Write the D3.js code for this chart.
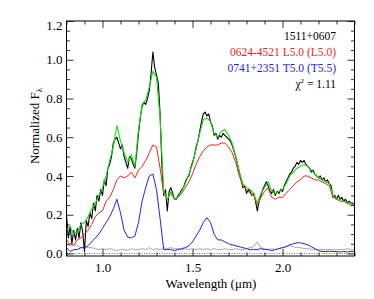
<!DOCTYPE html>
<html>
<head>
<meta charset="utf-8">
<script src="https://cdn.jsdelivr.net/npm/d3@7"></script>
<style>
  body { margin: 0; background: #fff; }
  svg text { font-family: "Liberation Serif", "Times New Roman", serif; }
</style>
</head>
<body>
<div id="chart"></div>
<script>
// wavelength grids (um)
var wave = d3.range(0, 81).map(function(i) { return +(0.80 + i * 0.02).toFixed(2); });
var waveFine = d3.range(0, 161).map(function(i) { return +(0.80 + i * 0.01).toFixed(2); });

// 1511+0607 observed spectrum (0.01 um step)
var observed = [
  0.20, 0.08, 0.14, 0.05, 0.12, 0.07, 0.13, 0.08, 0.16, 0.11,
  0.01, 0.17, 0.14, 0.21, 0.18, 0.26, 0.22, 0.30, 0.27, 0.33,
  0.30, 0.38, 0.35, 0.44, 0.46, 0.50, 0.57, 0.59, 0.60, 0.57,
  0.54, 0.56, 0.50, 0.47, 0.44, 0.50, 0.49, 0.46, 0.44, 0.52,
  0.62, 0.70, 0.76, 0.78, 0.77, 0.80, 0.84, 0.93, 1.04, 0.96,
  0.92, 0.88, 0.72, 0.45, 0.30, 0.33, 0.22, 0.32, 0.34, 0.31,
  0.28, 0.28, 0.30, 0.31, 0.33, 0.34, 0.37, 0.39, 0.40, 0.44,
  0.47, 0.50, 0.55, 0.58, 0.63, 0.68, 0.72, 0.73, 0.71, 0.72,
  0.68, 0.66, 0.61, 0.62, 0.59, 0.61, 0.60, 0.62, 0.61, 0.60,
  0.59, 0.58, 0.56, 0.53, 0.50, 0.46, 0.42, 0.38, 0.34, 0.35,
  0.31, 0.33, 0.32, 0.30, 0.31, 0.27, 0.22, 0.27, 0.30, 0.33,
  0.35, 0.37, 0.35, 0.32, 0.31, 0.33, 0.30, 0.32, 0.31, 0.33,
  0.32, 0.35, 0.37, 0.39, 0.41, 0.42, 0.44, 0.45, 0.47, 0.46,
  0.48, 0.47, 0.48, 0.46, 0.45, 0.44, 0.42, 0.43, 0.41, 0.40,
  0.39, 0.40, 0.38, 0.39, 0.37, 0.38, 0.36, 0.35, 0.29, 0.30,
  0.28, 0.30, 0.28, 0.29, 0.27, 0.28, 0.26, 0.27, 0.26, 0.26,
  0.25
];

// noise of observed spectrum
var noise = [
  0.05, 0.04, 0.05, 0.04, 0.03, 0.03, 0.03, 0.03, 0.025, 0.02,
  0.025, 0.02, 0.025, 0.02, 0.015, 0.02, 0.02, 0.015, 0.025, 0.02,
  0.02, 0.025, 0.02, 0.03, 0.02, 0.025, 0.02, 0.03, 0.025, 0.03,
  0.025, 0.025, 0.02, 0.025, 0.02, 0.025, 0.02, 0.025, 0.02, 0.025,
  0.02, 0.025, 0.02, 0.02, 0.025, 0.02, 0.02, 0.025, 0.02, 0.02,
  0.025, 0.03, 0.035, 0.06, 0.03, 0.025, 0.02, 0.025, 0.02, 0.025,
  0.03, 0.035, 0.04, 0.035, 0.03, 0.03, 0.025, 0.025, 0.02, 0.02,
  0.02, 0.02, 0.02, 0.02, 0.02, 0.02, 0.02, 0.02, 0.025, 0.02,
  0.02
];

// composite template (L5.0 + T5.0)
var composite = [
  0.12, 0.14, 0.10, 0.11, 0.15, 0.16, 0.19, 0.23, 0.26, 0.30,
  0.34, 0.40, 0.48, 0.55, 0.66, 0.58, 0.52, 0.47, 0.51, 0.45,
  0.64, 0.77, 0.79, 0.86, 0.94, 0.91, 0.70, 0.32, 0.28, 0.32,
  0.28, 0.29, 0.32, 0.36, 0.41, 0.46, 0.54, 0.62, 0.69, 0.70,
  0.68, 0.62, 0.60, 0.63, 0.64, 0.61, 0.57, 0.50, 0.42, 0.36,
  0.34, 0.33, 0.31, 0.26, 0.31, 0.34, 0.37, 0.32, 0.31, 0.32,
  0.33, 0.36, 0.40, 0.42, 0.44, 0.45, 0.46, 0.45, 0.43, 0.41,
  0.39, 0.38, 0.37, 0.36, 0.30, 0.28, 0.28, 0.27, 0.26, 0.26,
  0.25
];

// primary 0624-4521 L5.0
var primary = [
  0.07, 0.05, 0.04, 0.07, 0.08, 0.10, 0.12, 0.15, 0.19, 0.21,
  0.22, 0.27, 0.29, 0.33, 0.38, 0.40, 0.39, 0.40, 0.42, 0.39,
  0.43, 0.45, 0.48, 0.52, 0.56, 0.55, 0.44, 0.31, 0.28, 0.31,
  0.28, 0.29, 0.31, 0.34, 0.37, 0.41, 0.46, 0.50, 0.53, 0.55,
  0.56, 0.56, 0.56, 0.57, 0.57, 0.55, 0.52, 0.47, 0.40, 0.35,
  0.33, 0.31, 0.30, 0.25, 0.29, 0.32, 0.34, 0.29, 0.28, 0.29,
  0.29, 0.31, 0.33, 0.35, 0.37, 0.38, 0.40, 0.40, 0.39, 0.38,
  0.38, 0.37, 0.36, 0.35, 0.29, 0.28, 0.27, 0.27, 0.26, 0.25,
  0.25
];

// secondary 0741+2351 T5.0
var secondary = [
  0.03, 0.01, 0.02, 0.02, 0.03, 0.03, 0.04, 0.06, 0.08, 0.10,
  0.13, 0.16, 0.19, 0.23, 0.28, 0.21, 0.12, 0.085, 0.08, 0.09,
  0.16, 0.27, 0.34, 0.40, 0.41, 0.33, 0.18, 0.02, 0.02, 0.02,
  0.015, 0.02, 0.025, 0.03, 0.04, 0.06, 0.09, 0.12, 0.16, 0.185,
  0.16, 0.10, 0.07, 0.07, 0.06, 0.05, 0.045, 0.04, 0.035, 0.03,
  0.025, 0.02, 0.02, 0.02, 0.025, 0.02, 0.02, 0.015, 0.02, 0.025,
  0.03, 0.035, 0.045, 0.05, 0.055, 0.055, 0.05, 0.045, 0.035, 0.025,
  0.015, 0.01, 0.01, 0.012, 0.01, 0.01, 0.008, 0.01, 0.008, 0.01,
  0.01
];

var legendLines = [
  {text: "1511+0607", color: "#000000"},
  {text: "0624-4521 L5.0 (L5.0)", color: "#ff2020"},
  {text: "0741+2351 T5.0 (T5.5)", color: "#2020ff"}
];
var chi2 = "1.11";
var xTicks = [1.0, 1.5, 2.0];
var yTicks = [0.0, 0.2, 0.4, 0.6, 0.8, 1.0, 1.2];

(function() {
  var W = 374, H = 299;
  var pLeft = 66.5, pRight = 354.5, pTop = 21, pBottom = 256;

  var svg = d3.select("#chart").append("svg")
      .attr("width", W)
      .attr("height", H);

  var x = d3.scaleLinear().domain([0.8, 2.4]).range([pLeft, pRight]);
  var y = d3.scaleLinear().domain([-0.013, 1.2]).range([pBottom, pTop]);

  svg.append("clipPath").attr("id", "plotclip")
    .append("rect")
      .attr("x", pLeft).attr("y", pTop)
      .attr("width", pRight - pLeft).attr("height", pBottom - pTop);

  // zero line
  svg.append("line")
      .attr("x1", pLeft).attr("x2", pRight)
      .attr("y1", y(0)).attr("y2", y(0))
      .attr("stroke", "#555")
      .attr("stroke-width", 0.8)
      .attr("stroke-dasharray", "1,1.5");

  function series(xs, ys, color, width) {
    var line = d3.line()
        .x(function(d, i) { return x(xs[i]); })
        .y(function(d) { return y(d); });
    svg.append("path")
        .datum(ys)
        .attr("clip-path", "url(#plotclip)")
        .attr("d", line)
        .attr("fill", "none")
        .attr("stroke", color)
        .attr("stroke-width", width)
        .attr("stroke-linejoin", "round");
  }

  series(wave, noise, "#a8a8a8", 1);
  series(waveFine, observed, "#000000", 1.1);
  series(wave, primary, "#ff2020", 1);
  series(wave, secondary, "#2020ff", 1);
  series(wave, composite, "#10e010", 1.1);

  // axes: major and minor ticks pointing inward on all four sides
  var xMinor = d3.range(8, 25).map(function(i) { return i / 10; })
      .filter(function(v) { return xTicks.indexOf(v) < 0; });
  var yMinor = d3.range(0, 25).map(function(i) { return i * 0.05; }).filter(function(v) {
    return yTicks.every(function(t) { return Math.abs(t - v) > 1e-6; });
  });

  function styleAxis(g) {
    g.select(".domain").remove();
    g.selectAll(".tick line").attr("stroke", "#000").attr("stroke-width", 0.8);
    g.selectAll(".tick text")
      .attr("fill", "#000")
      .style("font-size", "13px")
      .style("font-family", "Liberation Serif, serif");
  }

  svg.append("g")
      .attr("transform", "translate(0," + pBottom + ")")
      .call(d3.axisBottom(x).tickValues(xTicks).tickSizeInner(-7).tickSizeOuter(0)
        .tickPadding(7).tickFormat(d3.format(".1f")))
      .call(styleAxis);
  svg.append("g")
      .attr("transform", "translate(0," + pBottom + ")")
      .call(d3.axisBottom(x).tickValues(xMinor).tickSizeInner(-3.5).tickSizeOuter(0).tickFormat(""))
      .call(styleAxis);
  svg.append("g")
      .attr("transform", "translate(0," + pTop + ")")
      .call(d3.axisTop(x).tickValues(xTicks).tickSizeInner(-7).tickSizeOuter(0).tickFormat(""))
      .call(styleAxis);
  svg.append("g")
      .attr("transform", "translate(0," + pTop + ")")
      .call(d3.axisTop(x).tickValues(xMinor).tickSizeInner(-3.5).tickSizeOuter(0).tickFormat(""))
      .call(styleAxis);

  var yAxisG = svg.append("g")
      .attr("transform", "translate(" + pLeft + ",0)")
      .call(d3.axisLeft(y).tickValues(yTicks).tickSizeInner(-7).tickSizeOuter(0)
        .tickPadding(4).tickFormat(d3.format(".1f")))
      .call(styleAxis);
  // top label sits a little lower, as in the original plot
  yAxisG.selectAll(".tick text").filter(function(d) { return d === 1.2; }).attr("dy", "0.62em");

  svg.append("g")
      .attr("transform", "translate(" + pLeft + ",0)")
      .call(d3.axisLeft(y).tickValues(yMinor).tickSizeInner(-3.5).tickSizeOuter(0).tickFormat(""))
      .call(styleAxis);
  svg.append("g")
      .attr("transform", "translate(" + pRight + ",0)")
      .call(d3.axisRight(y).tickValues(yTicks).tickSizeInner(-7).tickSizeOuter(0).tickFormat(""))
      .call(styleAxis);
  svg.append("g")
      .attr("transform", "translate(" + pRight + ",0)")
      .call(d3.axisRight(y).tickValues(yMinor).tickSizeInner(-3.5).tickSizeOuter(0).tickFormat(""))
      .call(styleAxis);

  // frame
  svg.append("rect")
      .attr("x", pLeft).attr("y", pTop)
      .attr("width", pRight - pLeft).attr("height", pBottom - pTop)
      .attr("fill", "none")
      .attr("stroke", "#000")
      .attr("stroke-width", 1);

  // axis titles
  svg.append("text")
      .attr("x", (pLeft + pRight) / 2 + 0.5)
      .attr("y", 288)
      .attr("text-anchor", "middle")
      .style("font-size", "13px")
      .text("Wavelength (\u03bcm)");

  var yt = svg.append("text")
      .attr("transform", "translate(39,126) rotate(-90)")
      .attr("text-anchor", "middle")
      .style("font-size", "13px");
  yt.append("tspan").text("Normalized F");
  yt.append("tspan").attr("dy", 3).style("font-size", "9px").text("\u03bb");

  // legend
  var lx = 336;
  legendLines.forEach(function(d, i) {
    svg.append("text")
        .attr("x", lx)
        .attr("y", 40 + i * 16)
        .attr("text-anchor", "end")
        .attr("fill", d.color)
        .style("font-size", "11.5px")
        .text(d.text);
  });
  var ct = svg.append("text")
      .attr("x", lx)
      .attr("y", 88)
      .attr("text-anchor", "end")
      .attr("fill", "#000")
      .style("font-size", "11.5px");
  ct.append("tspan").text("\u03c7");
  ct.append("tspan").attr("dy", -5).style("font-size", "7px").text("2");
  ct.append("tspan").attr("dy", 5).text(" = " + chi2);
})();
</script>
</body>
</html>
